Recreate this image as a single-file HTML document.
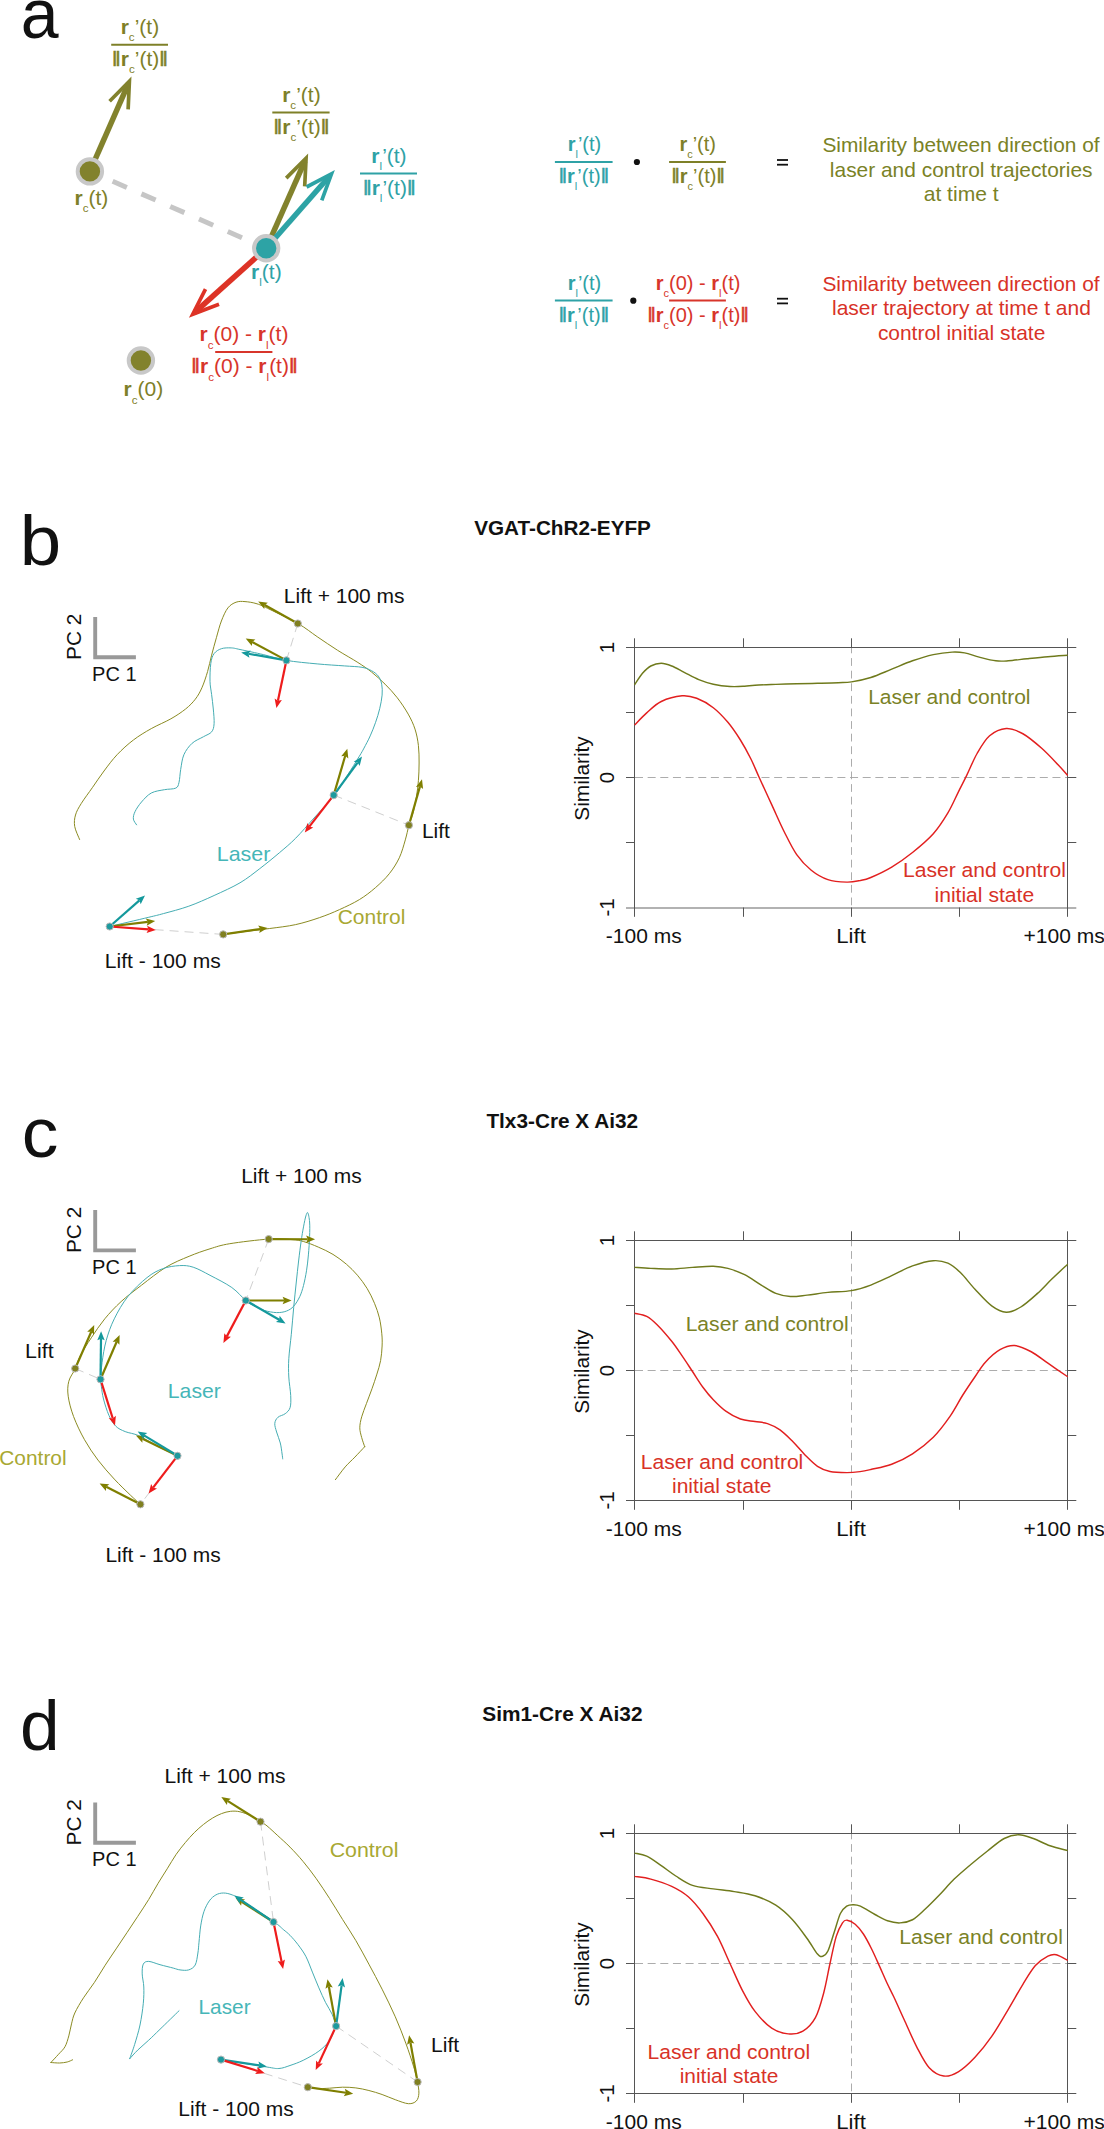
<!DOCTYPE html>
<html><head><meta charset="utf-8"><style>
html,body{margin:0;padding:0;background:#fff;}
svg{display:block;}
text{font-family:"Liberation Sans", sans-serif;}
</style></head><body>
<svg width="1104" height="2129" viewBox="0 0 1104 2129">
<rect width="1104" height="2129" fill="#ffffff"/>
<text x="20.78" y="37.60" font-size="70.00" fill="#111" font-weight="normal" textLength="37.85" lengthAdjust="spacingAndGlyphs" >a</text>
<text x="19.71" y="564.50" font-size="70.00" fill="#111" font-weight="normal" textLength="41.40" lengthAdjust="spacingAndGlyphs" >b</text>
<text x="21.87" y="1157.30" font-size="70.00" fill="#111" font-weight="normal" textLength="36.62" lengthAdjust="spacingAndGlyphs" >c</text>
<text x="20.14" y="1749.80" font-size="70.00" fill="#111" font-weight="normal" textLength="39.67" lengthAdjust="spacingAndGlyphs" >d</text>
<text x="474.20" y="535.10" font-size="20.50" fill="#111" font-weight="bold" textLength="176.73" lengthAdjust="spacingAndGlyphs" >VGAT-ChR2-EYFP</text>
<text x="486.40" y="1127.60" font-size="20.50" fill="#111" font-weight="bold" textLength="151.75" lengthAdjust="spacingAndGlyphs" >Tlx3-Cre X Ai32</text>
<text x="482.29" y="1721.10" font-size="20.50" fill="#111" font-weight="bold" textLength="160.24" lengthAdjust="spacingAndGlyphs" >Sim1-Cre X Ai32</text>
<line x1="634.50" y1="777.50" x2="1067.50" y2="777.50" stroke="#a3a3a3" stroke-width="0.9" stroke-dasharray="8 4.65" stroke-dashoffset="-0.5"/>
<line x1="851.50" y1="647.50" x2="851.50" y2="907.50" stroke="#a3a3a3" stroke-width="0.9" stroke-dasharray="7.8 4.8" stroke-dashoffset="2"/>
<g stroke="#555555" stroke-width="1.0" fill="none">
<line x1="626.0" y1="647.50" x2="1076.3" y2="647.50"/>
<line x1="626.0" y1="908.00" x2="1076.3" y2="908.00" stroke="#b2b2b2" stroke-width="2"/>
<line x1="634.50" y1="638.30" x2="634.50" y2="916.80"/>
<line x1="1067.50" y1="638.30" x2="1067.50" y2="916.80"/>
<line x1="743.50" y1="638.30" x2="743.50" y2="647.50"/>
<line x1="743.50" y1="907.50" x2="743.50" y2="916.80"/>
<line x1="851.50" y1="638.30" x2="851.50" y2="647.50"/>
<line x1="851.50" y1="907.50" x2="851.50" y2="916.80"/>
<line x1="959.50" y1="638.30" x2="959.50" y2="647.50"/>
<line x1="959.50" y1="907.50" x2="959.50" y2="916.80"/>
<line x1="626.0" y1="712.50" x2="634.50" y2="712.50"/>
<line x1="1067.50" y1="712.50" x2="1076.3" y2="712.50"/>
<line x1="626.0" y1="777.50" x2="634.50" y2="777.50"/>
<line x1="1067.50" y1="777.50" x2="1076.3" y2="777.50"/>
<line x1="626.0" y1="842.50" x2="634.50" y2="842.50"/>
<line x1="1067.50" y1="842.50" x2="1076.3" y2="842.50"/>
</g>
<path d="M634.60,684.80 C635.92,682.88 639.80,676.43 642.50,673.30 C645.20,670.17 647.67,667.67 650.80,666.00 C653.92,664.33 657.77,663.30 661.25,663.30 C664.73,663.30 667.88,664.50 671.70,666.00 C675.53,667.50 679.69,670.03 684.20,672.30 C688.71,674.57 693.90,677.62 698.75,679.60 C703.60,681.58 708.09,683.05 713.30,684.20 C718.51,685.35 724.78,686.16 730.00,686.50 C735.22,686.84 740.43,686.47 744.60,686.25 C748.77,686.03 749.80,685.51 755.00,685.20 C760.20,684.89 768.85,684.64 775.80,684.40 C782.75,684.16 789.75,683.93 796.70,683.75 C803.65,683.57 810.57,683.47 817.50,683.30 C824.43,683.12 832.63,682.93 838.30,682.70 C843.97,682.47 846.08,682.77 851.50,681.90 C856.92,681.03 864.10,679.62 870.80,677.50 C877.50,675.38 884.75,671.98 891.70,669.20 C898.65,666.42 905.57,663.23 912.50,660.80 C919.43,658.37 926.70,656.05 933.30,654.60 C939.90,653.15 946.88,652.38 952.10,652.10 C957.32,651.82 960.08,652.07 964.60,652.90 C969.12,653.73 974.00,655.78 979.20,657.10 C984.40,658.42 990.95,660.18 995.80,660.80 C1000.65,661.42 1003.08,661.14 1008.30,660.80 C1013.52,660.46 1020.50,659.43 1027.10,658.75 C1033.70,658.07 1041.13,657.29 1047.90,656.70 C1054.67,656.11 1064.40,655.45 1067.70,655.20" fill="none" stroke="#6f7a1c" stroke-width="1.45" stroke-linejoin="round" stroke-linecap="round" style="stroke-linecap:butt"/>
<path d="M634.60,725.00 C636.62,722.98 642.26,716.82 646.70,712.90 C651.14,708.98 655.35,704.35 661.25,701.50 C667.15,698.65 676.19,696.33 682.10,695.80 C688.01,695.27 691.50,696.32 696.70,698.30 C701.90,700.28 708.10,703.70 713.30,707.70 C718.50,711.70 723.38,716.92 727.90,722.30 C732.42,727.68 736.58,733.92 740.40,740.00 C744.22,746.08 747.67,752.50 750.80,758.75 C753.93,765.00 755.72,769.86 759.20,777.50 C762.68,785.14 767.53,795.57 771.70,804.60 C775.87,813.63 780.03,823.37 784.20,831.70 C788.37,840.03 792.19,848.18 796.70,854.60 C801.21,861.02 806.05,866.03 811.25,870.20 C816.45,874.37 821.99,877.62 827.90,879.60 C833.81,881.58 841.35,881.93 846.70,882.10 C852.05,882.27 855.98,881.37 860.00,880.60 C864.02,879.83 865.52,879.75 870.80,877.50 C876.08,875.25 884.75,871.27 891.70,867.10 C898.65,862.93 905.57,858.06 912.50,852.50 C919.43,846.94 927.40,840.35 933.30,833.75 C939.20,827.15 943.73,819.84 947.90,812.90 C952.07,805.96 955.17,798.35 958.30,792.10 C961.43,785.85 963.57,781.83 966.70,775.40 C969.83,768.97 973.28,760.10 977.10,753.50 C980.92,746.90 984.74,739.97 989.60,735.80 C994.46,731.63 1000.70,728.84 1006.25,728.50 C1011.80,728.16 1016.99,730.45 1022.90,733.75 C1028.81,737.05 1035.80,743.09 1041.70,748.30 C1047.60,753.51 1053.97,760.48 1058.30,765.00 C1062.63,769.52 1066.13,773.67 1067.70,775.40" fill="none" stroke="#e21f1f" stroke-width="1.45" stroke-linejoin="round" stroke-linecap="round" style="stroke-linecap:butt"/>
<text transform="translate(613.6,647.50) rotate(-90)" font-size="20.5" fill="#111" text-anchor="middle">1</text>
<text transform="translate(613.6,777.50) rotate(-90)" font-size="20.5" fill="#111" text-anchor="middle">0</text>
<text transform="translate(613.6,907.50) rotate(-90)" font-size="20.5" fill="#111" text-anchor="middle">-1</text>
<text transform="translate(589.3,778.50) rotate(-90)" font-size="20.8" fill="#111" text-anchor="middle">Similarity</text>
<text x="605.78" y="942.90" font-size="20.50" fill="#111" font-weight="normal" textLength="75.89" lengthAdjust="spacingAndGlyphs" >-100 ms</text>
<text x="836.27" y="942.90" font-size="20.50" fill="#111" font-weight="normal" textLength="29.58" lengthAdjust="spacingAndGlyphs" >Lift</text>
<text x="1023.47" y="942.90" font-size="20.50" fill="#111" font-weight="normal" textLength="81.24" lengthAdjust="spacingAndGlyphs" >+100 ms</text>
<text x="868.16" y="703.50" font-size="20.50" fill="#7a8226" font-weight="normal" textLength="162.38" lengthAdjust="spacingAndGlyphs" >Laser and control</text>
<text x="902.95" y="877.10" font-size="20.50" fill="#d83227" font-weight="normal" textLength="162.99" lengthAdjust="spacingAndGlyphs" >Laser and control</text>
<text x="934.46" y="901.50" font-size="20.50" fill="#d83227" font-weight="normal" textLength="99.72" lengthAdjust="spacingAndGlyphs" >initial state</text>
<line x1="634.50" y1="1370.50" x2="1067.50" y2="1370.50" stroke="#a3a3a3" stroke-width="0.9" stroke-dasharray="8 4.65" stroke-dashoffset="-0.5"/>
<line x1="851.50" y1="1240.50" x2="851.50" y2="1500.50" stroke="#a3a3a3" stroke-width="0.9" stroke-dasharray="7.8 4.8" stroke-dashoffset="2"/>
<g stroke="#555555" stroke-width="1.0" fill="none">
<line x1="626.0" y1="1240.50" x2="1076.3" y2="1240.50"/>
<line x1="626.0" y1="1500.50" x2="1076.3" y2="1500.50"/>
<line x1="634.50" y1="1231.30" x2="634.50" y2="1509.80"/>
<line x1="1067.50" y1="1231.30" x2="1067.50" y2="1509.80"/>
<line x1="743.50" y1="1231.30" x2="743.50" y2="1240.50"/>
<line x1="743.50" y1="1500.50" x2="743.50" y2="1509.80"/>
<line x1="851.50" y1="1231.30" x2="851.50" y2="1240.50"/>
<line x1="851.50" y1="1500.50" x2="851.50" y2="1509.80"/>
<line x1="959.50" y1="1231.30" x2="959.50" y2="1240.50"/>
<line x1="959.50" y1="1500.50" x2="959.50" y2="1509.80"/>
<line x1="626.0" y1="1305.50" x2="634.50" y2="1305.50"/>
<line x1="1067.50" y1="1305.50" x2="1076.3" y2="1305.50"/>
<line x1="626.0" y1="1370.50" x2="634.50" y2="1370.50"/>
<line x1="1067.50" y1="1370.50" x2="1076.3" y2="1370.50"/>
<line x1="626.0" y1="1435.50" x2="634.50" y2="1435.50"/>
<line x1="1067.50" y1="1435.50" x2="1076.3" y2="1435.50"/>
</g>
<path d="M634.60,1267.40 C637.30,1267.57 644.62,1268.13 650.80,1268.40 C656.98,1268.67 664.75,1269.17 671.70,1269.00 C678.65,1268.83 685.57,1267.85 692.50,1267.40 C699.43,1266.95 707.40,1266.13 713.30,1266.30 C719.20,1266.47 722.68,1267.00 727.90,1268.40 C733.12,1269.80 739.04,1271.92 744.60,1274.70 C750.16,1277.48 756.05,1281.98 761.25,1285.10 C766.45,1288.22 770.94,1291.50 775.80,1293.40 C780.66,1295.30 785.18,1296.22 790.40,1296.50 C795.62,1296.78 800.85,1295.78 807.10,1295.10 C813.35,1294.42 820.50,1293.15 827.90,1292.40 C835.30,1291.65 844.35,1291.82 851.50,1290.60 C858.65,1289.38 864.10,1287.58 870.80,1285.10 C877.50,1282.62 884.75,1278.90 891.70,1275.70 C898.65,1272.50 905.57,1268.40 912.50,1265.90 C919.43,1263.40 927.40,1261.15 933.30,1260.70 C939.20,1260.25 943.38,1261.22 947.90,1263.20 C952.42,1265.18 955.88,1268.26 960.40,1272.60 C964.92,1276.94 969.78,1283.70 975.00,1289.25 C980.22,1294.80 986.49,1302.08 991.70,1305.90 C996.91,1309.73 1001.40,1312.02 1006.25,1312.20 C1011.10,1312.38 1015.59,1310.13 1020.80,1307.00 C1026.01,1303.87 1032.28,1298.10 1037.50,1293.40 C1042.72,1288.70 1047.07,1283.66 1052.10,1278.80 C1057.13,1273.94 1065.10,1266.67 1067.70,1264.25" fill="none" stroke="#6f7a1c" stroke-width="1.45" stroke-linejoin="round" stroke-linecap="round" style="stroke-linecap:butt"/>
<path d="M634.60,1313.20 C636.62,1313.72 642.95,1314.38 646.70,1316.30 C650.45,1318.22 652.93,1320.53 657.10,1324.70 C661.27,1328.87 667.53,1336.10 671.70,1341.30 C675.87,1346.50 678.63,1350.87 682.10,1355.90 C685.57,1360.93 689.03,1366.28 692.50,1371.50 C695.97,1376.72 699.43,1382.50 702.90,1387.20 C706.37,1391.90 709.48,1395.72 713.30,1399.70 C717.12,1403.68 721.28,1407.88 725.80,1411.10 C730.32,1414.32 735.53,1417.27 740.40,1419.00 C745.27,1420.73 750.48,1420.73 755.00,1421.50 C759.52,1422.27 763.33,1422.20 767.50,1423.60 C771.67,1425.00 775.83,1426.95 780.00,1429.90 C784.17,1432.85 788.33,1437.13 792.50,1441.30 C796.67,1445.47 800.83,1450.73 805.00,1454.90 C809.17,1459.07 813.33,1463.53 817.50,1466.30 C821.67,1469.07 825.13,1470.45 830.00,1471.50 C834.87,1472.55 841.70,1472.58 846.70,1472.60 C851.70,1472.62 855.98,1472.12 860.00,1471.60 C864.02,1471.08 865.52,1470.72 870.80,1469.50 C876.08,1468.28 884.75,1466.87 891.70,1464.25 C898.65,1461.63 905.57,1458.31 912.50,1453.80 C919.43,1449.29 927.05,1443.45 933.30,1437.20 C939.55,1430.95 945.13,1423.25 950.00,1416.30 C954.87,1409.35 958.33,1402.09 962.50,1395.50 C966.67,1388.91 971.18,1382.30 975.00,1376.75 C978.82,1371.20 981.23,1366.71 985.40,1362.20 C989.57,1357.69 995.13,1352.48 1000.00,1349.70 C1004.87,1346.92 1009.39,1345.16 1014.60,1345.50 C1019.81,1345.84 1025.70,1348.80 1031.25,1351.75 C1036.80,1354.70 1041.83,1359.03 1047.90,1363.20 C1053.98,1367.37 1064.40,1374.49 1067.70,1376.75" fill="none" stroke="#e21f1f" stroke-width="1.45" stroke-linejoin="round" stroke-linecap="round" style="stroke-linecap:butt"/>
<text transform="translate(613.6,1240.50) rotate(-90)" font-size="20.5" fill="#111" text-anchor="middle">1</text>
<text transform="translate(613.6,1370.50) rotate(-90)" font-size="20.5" fill="#111" text-anchor="middle">0</text>
<text transform="translate(613.6,1500.50) rotate(-90)" font-size="20.5" fill="#111" text-anchor="middle">-1</text>
<text transform="translate(589.3,1371.50) rotate(-90)" font-size="20.8" fill="#111" text-anchor="middle">Similarity</text>
<text x="605.78" y="1535.90" font-size="20.50" fill="#111" font-weight="normal" textLength="75.89" lengthAdjust="spacingAndGlyphs" >-100 ms</text>
<text x="836.27" y="1535.90" font-size="20.50" fill="#111" font-weight="normal" textLength="29.58" lengthAdjust="spacingAndGlyphs" >Lift</text>
<text x="1023.47" y="1535.90" font-size="20.50" fill="#111" font-weight="normal" textLength="81.24" lengthAdjust="spacingAndGlyphs" >+100 ms</text>
<text x="685.65" y="1330.90" font-size="20.50" fill="#7a8226" font-weight="normal" textLength="162.99" lengthAdjust="spacingAndGlyphs" >Laser and control</text>
<text x="640.86" y="1468.80" font-size="20.50" fill="#d83227" font-weight="normal" textLength="162.38" lengthAdjust="spacingAndGlyphs" >Laser and control</text>
<text x="671.96" y="1493.40" font-size="20.50" fill="#d83227" font-weight="normal" textLength="99.52" lengthAdjust="spacingAndGlyphs" >initial state</text>
<line x1="634.50" y1="1963.50" x2="1067.50" y2="1963.50" stroke="#a3a3a3" stroke-width="0.9" stroke-dasharray="8 4.65" stroke-dashoffset="-0.5"/>
<line x1="851.50" y1="1833.50" x2="851.50" y2="2093.50" stroke="#a3a3a3" stroke-width="0.9" stroke-dasharray="7.8 4.8" stroke-dashoffset="2"/>
<g stroke="#555555" stroke-width="1.0" fill="none">
<line x1="626.0" y1="1833.50" x2="1076.3" y2="1833.50"/>
<line x1="626.0" y1="2093.50" x2="1076.3" y2="2093.50"/>
<line x1="634.50" y1="1824.30" x2="634.50" y2="2102.80"/>
<line x1="1067.50" y1="1824.30" x2="1067.50" y2="2102.80"/>
<line x1="743.50" y1="1824.30" x2="743.50" y2="1833.50"/>
<line x1="743.50" y1="2093.50" x2="743.50" y2="2102.80"/>
<line x1="851.50" y1="1824.30" x2="851.50" y2="1833.50"/>
<line x1="851.50" y1="2093.50" x2="851.50" y2="2102.80"/>
<line x1="959.50" y1="1824.30" x2="959.50" y2="1833.50"/>
<line x1="959.50" y1="2093.50" x2="959.50" y2="2102.80"/>
<line x1="626.0" y1="1898.50" x2="634.50" y2="1898.50"/>
<line x1="1067.50" y1="1898.50" x2="1076.3" y2="1898.50"/>
<line x1="626.0" y1="1963.50" x2="634.50" y2="1963.50"/>
<line x1="1067.50" y1="1963.50" x2="1076.3" y2="1963.50"/>
<line x1="626.0" y1="2028.50" x2="634.50" y2="2028.50"/>
<line x1="1067.50" y1="2028.50" x2="1076.3" y2="2028.50"/>
</g>
<path d="M634.60,1853.10 C636.62,1853.62 642.26,1854.12 646.70,1856.20 C651.14,1858.28 656.40,1862.30 661.25,1865.60 C666.10,1868.90 670.59,1872.70 675.80,1876.00 C681.01,1879.30 686.25,1883.25 692.50,1885.40 C698.75,1887.55 706.35,1887.87 713.30,1888.90 C720.25,1889.93 727.25,1890.45 734.20,1891.60 C741.15,1892.75 748.07,1893.53 755.00,1895.80 C761.93,1898.07 769.55,1901.21 775.80,1905.20 C782.05,1909.19 787.28,1914.20 792.50,1919.75 C797.72,1925.30 802.93,1932.78 807.10,1938.50 C811.27,1944.22 814.90,1951.15 817.50,1954.10 C820.10,1957.05 820.97,1956.72 822.70,1956.20 C824.43,1955.68 825.98,1954.99 827.90,1951.00 C829.82,1947.01 832.12,1938.50 834.20,1932.25 C836.28,1926.00 838.32,1917.84 840.40,1913.50 C842.48,1909.16 844.62,1907.66 846.70,1906.20 C848.78,1904.74 850.62,1904.75 852.90,1904.75 C855.18,1904.75 856.72,1904.58 860.40,1906.20 C864.08,1907.83 870.48,1912.07 875.00,1914.50 C879.52,1916.93 883.33,1919.40 887.50,1920.80 C891.67,1922.20 895.83,1923.08 900.00,1922.90 C904.17,1922.73 908.33,1922.02 912.50,1919.75 C916.67,1917.48 920.48,1913.47 925.00,1909.30 C929.52,1905.13 934.73,1899.78 939.60,1894.75 C944.47,1889.72 949.00,1884.14 954.20,1879.10 C959.40,1874.06 965.25,1869.18 970.80,1864.50 C976.35,1859.82 981.93,1855.33 987.50,1851.00 C993.07,1846.67 998.99,1841.21 1004.20,1838.50 C1009.41,1835.79 1013.90,1834.75 1018.75,1834.75 C1023.60,1834.75 1028.09,1836.66 1033.30,1838.50 C1038.51,1840.34 1044.27,1843.78 1050.00,1845.80 C1055.73,1847.82 1064.75,1849.80 1067.70,1850.60" fill="none" stroke="#6f7a1c" stroke-width="1.45" stroke-linejoin="round" stroke-linecap="round" style="stroke-linecap:butt"/>
<path d="M634.60,1876.40 C637.30,1876.85 644.62,1877.43 650.80,1879.10 C656.98,1880.77 665.45,1883.45 671.70,1886.40 C677.95,1889.35 683.10,1892.28 688.30,1896.80 C693.50,1901.32 698.03,1906.90 702.90,1913.50 C707.77,1920.10 712.98,1928.07 717.50,1936.40 C722.02,1944.73 725.83,1954.47 730.00,1963.50 C734.17,1972.53 738.33,1982.62 742.50,1990.60 C746.67,1998.58 750.13,2005.15 755.00,2011.40 C759.87,2017.65 766.15,2024.35 771.70,2028.10 C777.25,2031.85 783.10,2033.38 788.30,2033.90 C793.50,2034.42 798.38,2033.90 802.90,2031.20 C807.42,2028.50 811.92,2024.12 815.40,2017.70 C818.88,2011.28 821.32,2001.73 823.75,1992.70 C826.18,1983.67 827.92,1972.88 830.00,1963.50 C832.08,1954.12 834.17,1943.17 836.25,1936.40 C838.33,1929.63 840.69,1925.60 842.50,1922.90 C844.31,1920.20 844.98,1919.98 847.10,1920.20 C849.22,1920.42 852.48,1921.90 855.20,1924.20 C857.92,1926.50 860.68,1929.92 863.40,1934.00 C866.12,1938.08 868.78,1943.27 871.50,1948.70 C874.22,1954.13 877.12,1960.88 879.70,1966.60 C882.28,1972.32 884.66,1977.97 887.00,1983.00 C889.34,1988.03 890.88,1990.67 893.75,1996.80 C896.62,2002.92 900.38,2011.42 904.20,2019.75 C908.03,2028.08 912.53,2038.81 916.70,2046.80 C920.87,2054.79 924.69,2062.83 929.20,2067.70 C933.71,2072.57 938.90,2075.32 943.75,2076.00 C948.60,2076.68 953.09,2074.93 958.30,2071.80 C963.51,2068.68 969.43,2063.15 975.00,2057.25 C980.57,2051.35 986.15,2044.39 991.70,2036.40 C997.25,2028.41 1003.10,2017.98 1008.30,2009.30 C1013.50,2000.62 1018.38,1991.58 1022.90,1984.30 C1027.42,1977.02 1031.23,1970.28 1035.40,1965.60 C1039.57,1960.92 1044.43,1958.01 1047.90,1956.20 C1051.38,1954.39 1052.95,1954.05 1056.25,1954.75 C1059.55,1955.45 1065.79,1959.46 1067.70,1960.40" fill="none" stroke="#e21f1f" stroke-width="1.45" stroke-linejoin="round" stroke-linecap="round" style="stroke-linecap:butt"/>
<text transform="translate(613.6,1833.50) rotate(-90)" font-size="20.5" fill="#111" text-anchor="middle">1</text>
<text transform="translate(613.6,1963.50) rotate(-90)" font-size="20.5" fill="#111" text-anchor="middle">0</text>
<text transform="translate(613.6,2093.50) rotate(-90)" font-size="20.5" fill="#111" text-anchor="middle">-1</text>
<text transform="translate(589.3,1964.50) rotate(-90)" font-size="20.8" fill="#111" text-anchor="middle">Similarity</text>
<text x="605.78" y="2128.90" font-size="20.50" fill="#111" font-weight="normal" textLength="75.89" lengthAdjust="spacingAndGlyphs" >-100 ms</text>
<text x="836.27" y="2128.90" font-size="20.50" fill="#111" font-weight="normal" textLength="29.58" lengthAdjust="spacingAndGlyphs" >Lift</text>
<text x="1023.47" y="2128.90" font-size="20.50" fill="#111" font-weight="normal" textLength="81.24" lengthAdjust="spacingAndGlyphs" >+100 ms</text>
<text x="899.35" y="1943.70" font-size="20.50" fill="#7a8226" font-weight="normal" textLength="163.50" lengthAdjust="spacingAndGlyphs" >Laser and control</text>
<text x="647.56" y="2058.90" font-size="20.50" fill="#d83227" font-weight="normal" textLength="162.53" lengthAdjust="spacingAndGlyphs" >Laser and control</text>
<text x="679.68" y="2083.30" font-size="20.50" fill="#d83227" font-weight="normal" textLength="98.70" lengthAdjust="spacingAndGlyphs" >initial state</text>
<path d="M95.2,616.90 L95.2,657.30 L135.9,657.30" fill="none" stroke="#999999" stroke-width="3.9" stroke-linejoin="miter"/>
<text x="114.30" y="680.70" font-size="20.00" fill="#111" text-anchor="middle" font-weight="normal" >PC 1</text>
<text transform="translate(81.2,636.80) rotate(-90)" font-size="20.8" fill="#111" text-anchor="middle">PC 2</text>
<path d="M223.20,934.40 C226.83,933.92 237.25,932.48 245.00,931.50 C252.75,930.52 261.25,929.65 269.70,928.50 C278.15,927.35 287.38,926.42 295.70,924.60 C304.02,922.78 312.30,920.10 319.60,917.60 C326.90,915.10 332.87,912.60 339.50,909.60 C346.13,906.60 353.42,903.25 359.40,899.60 C365.38,895.95 370.42,892.02 375.40,887.70 C380.38,883.38 385.32,878.68 389.30,873.70 C393.28,868.72 396.63,863.43 399.30,857.80 C401.97,852.17 403.70,845.28 405.30,839.90 C406.90,834.52 407.62,829.93 408.90,825.50 C410.18,821.07 411.75,818.05 413.00,813.30 C414.25,808.55 415.50,802.43 416.40,797.00 C417.30,791.57 417.95,786.37 418.40,780.70 C418.85,775.03 419.10,768.88 419.10,763.00 C419.10,757.12 419.08,751.05 418.40,745.40 C417.72,739.75 416.70,734.32 415.00,729.10 C413.30,723.88 411.15,719.32 408.20,714.10 C405.25,708.88 401.15,702.78 397.30,697.80 C393.45,692.82 389.40,688.50 385.10,684.20 C380.80,679.90 376.03,675.62 371.50,672.00 C366.97,668.38 363.55,666.12 357.90,662.50 C352.25,658.88 344.38,654.60 337.60,650.30 C330.82,646.00 323.73,641.12 317.20,636.70 C310.67,632.28 306.27,628.33 298.40,623.80 C290.53,619.27 276.90,612.83 270.00,609.50 C263.10,606.17 261.17,605.12 257.00,603.80 C252.83,602.48 248.48,601.87 245.00,601.60 C241.52,601.33 238.95,601.15 236.10,602.20 C233.25,603.25 230.35,604.77 227.90,607.90 C225.45,611.03 223.30,616.10 221.40,621.00 C219.50,625.90 218.13,631.60 216.50,637.30 C214.87,643.00 213.08,649.50 211.60,655.20 C210.12,660.90 209.22,666.07 207.60,671.50 C205.98,676.93 203.95,683.18 201.90,687.80 C199.85,692.42 198.02,695.67 195.30,699.20 C192.58,702.73 189.67,705.73 185.60,709.00 C181.53,712.27 176.62,715.53 170.90,718.80 C165.18,722.07 157.55,725.07 151.30,728.60 C145.05,732.13 139.10,735.65 133.40,740.00 C127.70,744.35 122.00,749.53 117.10,754.70 C112.20,759.87 108.08,765.57 104.00,771.00 C99.92,776.43 96.40,781.87 92.60,787.30 C88.80,792.73 84.05,798.98 81.20,803.60 C78.35,808.22 76.58,811.20 75.50,815.00 C74.42,818.80 74.02,822.32 74.70,826.40 C75.38,830.48 78.78,837.32 79.60,839.50" fill="none" stroke="#8b8b22" stroke-width="1.00" stroke-linejoin="round" stroke-linecap="round" />
<path d="M109.70,926.50 C116.12,924.98 139.25,919.55 148.20,917.40 C157.15,915.25 156.63,915.47 163.40,913.60 C170.17,911.73 180.35,909.22 188.80,906.20 C197.25,903.18 205.57,899.40 214.10,895.50 C222.63,891.60 232.38,887.28 240.00,882.80 C247.62,878.32 253.18,873.65 259.80,868.60 C266.42,863.55 273.72,857.57 279.70,852.50 C285.68,847.43 289.98,843.95 295.70,838.20 C301.42,832.45 307.58,825.08 314.00,818.00 C320.42,810.92 328.70,802.70 334.20,795.70 C339.70,788.70 342.82,782.57 347.00,776.00 C351.18,769.43 356.47,760.95 359.30,756.30 C362.13,751.65 362.18,751.50 364.00,748.10 C365.82,744.70 368.27,740.20 370.20,735.90 C372.13,731.60 374.02,726.83 375.60,722.30 C377.18,717.77 378.62,713.23 379.70,708.70 C380.78,704.17 381.77,699.18 382.10,695.10 C382.43,691.02 382.33,687.37 381.70,684.20 C381.07,681.03 380.00,678.35 378.30,676.10 C376.60,673.85 374.22,672.17 371.50,670.70 C368.78,669.23 366.53,668.10 362.00,667.30 C357.47,666.50 351.77,666.47 344.30,665.90 C336.83,665.33 326.85,664.82 317.20,663.90 C307.55,662.98 295.30,661.93 286.40,660.40 C277.50,658.87 271.53,656.52 263.80,654.70 C256.07,652.88 245.43,650.63 240.00,649.50 C234.57,648.37 234.30,648.03 231.20,647.90 C228.10,647.77 224.25,647.75 221.40,648.70 C218.55,649.65 215.87,651.15 214.10,653.60 C212.33,656.05 211.48,658.78 210.80,663.40 C210.12,668.02 209.87,676.13 210.00,681.30 C210.13,686.47 211.05,689.78 211.60,694.40 C212.15,699.02 212.88,704.12 213.30,709.00 C213.72,713.88 214.38,719.88 214.10,723.70 C213.82,727.52 213.37,729.73 211.60,731.90 C209.83,734.07 206.75,734.80 203.50,736.70 C200.25,738.60 195.37,740.30 192.10,743.30 C188.83,746.30 185.80,750.35 183.90,754.70 C182.00,759.05 181.52,764.78 180.70,769.40 C179.88,774.02 179.82,779.28 179.00,782.40 C178.18,785.52 178.23,786.88 175.80,788.10 C173.37,789.32 168.48,788.88 164.40,789.70 C160.32,790.52 155.12,790.95 151.30,793.00 C147.48,795.05 144.22,798.88 141.50,802.00 C138.78,805.12 136.35,808.85 135.00,811.70 C133.65,814.55 133.13,816.92 133.40,819.10 C133.67,821.28 136.07,823.85 136.60,824.80" fill="none" stroke="#45adb3" stroke-width="1.00" stroke-linejoin="round" stroke-linecap="round" />
<line x1="297.80" y1="623.50" x2="286.40" y2="660.40" stroke="#cacaca" stroke-width="0.90" stroke-dasharray="9 6"/>
<line x1="333.70" y1="795.10" x2="408.90" y2="825.20" stroke="#cacaca" stroke-width="0.90" stroke-dasharray="9 6"/>
<line x1="109.70" y1="926.50" x2="223.20" y2="934.40" stroke="#cacaca" stroke-width="0.90" stroke-dasharray="9 6"/>
<line x1="297.80" y1="623.50" x2="264.65" y2="605.08" stroke="#7f7f00" stroke-width="2.20"/>
<path d="M258.20,601.50 L267.86,602.64 L264.65,605.08 L264.27,609.11 Z" fill="#7f7f00"/>
<line x1="286.40" y1="660.40" x2="252.19" y2="641.91" stroke="#7f7f00" stroke-width="2.20"/>
<path d="M245.70,638.40 L255.38,639.42 L252.19,641.91 L251.86,645.93 Z" fill="#7f7f00"/>
<line x1="286.40" y1="660.40" x2="248.47" y2="653.77" stroke="#14999c" stroke-width="2.20"/>
<path d="M241.20,652.50 L250.70,650.40 L248.47,653.77 L249.43,657.69 Z" fill="#14999c"/>
<line x1="286.40" y1="660.40" x2="277.92" y2="700.78" stroke="#ee1c1c" stroke-width="2.20"/>
<path d="M276.40,708.00 L274.63,698.43 L277.92,700.78 L281.87,699.95 Z" fill="#ee1c1c"/>
<line x1="333.70" y1="795.10" x2="345.22" y2="755.78" stroke="#7f7f00" stroke-width="2.20"/>
<path d="M347.30,748.70 L348.32,758.38 L345.22,755.78 L341.22,756.30 Z" fill="#7f7f00"/>
<line x1="333.70" y1="795.10" x2="357.63" y2="762.55" stroke="#14999c" stroke-width="2.20"/>
<path d="M362.00,756.60 L359.65,766.04 L357.63,762.55 L353.69,761.66 Z" fill="#14999c"/>
<line x1="333.70" y1="795.10" x2="309.32" y2="826.57" stroke="#ee1c1c" stroke-width="2.20"/>
<path d="M304.80,832.40 L307.39,823.02 L309.32,826.57 L313.24,827.55 Z" fill="#ee1c1c"/>
<line x1="408.90" y1="825.20" x2="419.97" y2="786.40" stroke="#7f7f00" stroke-width="2.20"/>
<path d="M422.00,779.30 L423.09,788.97 L419.97,786.40 L415.97,786.94 Z" fill="#7f7f00"/>
<line x1="109.70" y1="926.50" x2="147.87" y2="921.89" stroke="#7f7f00" stroke-width="2.20"/>
<path d="M155.20,921.00 L146.71,925.75 L147.87,921.89 L145.82,918.41 Z" fill="#7f7f00"/>
<line x1="109.70" y1="926.50" x2="148.44" y2="929.44" stroke="#ee1c1c" stroke-width="2.20"/>
<path d="M155.80,930.00 L146.55,933.01 L148.44,929.44 L147.11,925.63 Z" fill="#ee1c1c"/>
<line x1="109.70" y1="926.50" x2="139.45" y2="900.37" stroke="#14999c" stroke-width="2.20"/>
<path d="M145.00,895.50 L140.68,904.22 L139.45,900.37 L135.80,898.66 Z" fill="#14999c"/>
<line x1="223.20" y1="934.40" x2="260.30" y2="929.05" stroke="#7f7f00" stroke-width="2.20"/>
<path d="M267.60,928.00 L259.22,932.95 L260.30,929.05 L258.16,925.62 Z" fill="#7f7f00"/>
<circle cx="297.80" cy="623.50" r="3.60" fill="#808020" stroke="#b9b9b9" stroke-width="1.00"/>
<circle cx="286.40" cy="660.40" r="3.60" fill="#1d9a9e" stroke="#b9b9b9" stroke-width="1.00"/>
<circle cx="333.70" cy="795.10" r="3.60" fill="#1d9a9e" stroke="#b9b9b9" stroke-width="1.00"/>
<circle cx="408.90" cy="825.20" r="3.60" fill="#808020" stroke="#b9b9b9" stroke-width="1.00"/>
<circle cx="109.70" cy="926.50" r="3.60" fill="#1d9a9e" stroke="#b9b9b9" stroke-width="1.00"/>
<circle cx="223.20" cy="934.40" r="3.60" fill="#808020" stroke="#b9b9b9" stroke-width="1.00"/>
<text x="283.85" y="602.60" font-size="20.30" fill="#111" font-weight="normal" textLength="120.77" lengthAdjust="spacingAndGlyphs" >Lift + 100 ms</text>
<text x="421.95" y="838.20" font-size="20.30" fill="#111" font-weight="normal" textLength="27.94" lengthAdjust="spacingAndGlyphs" >Lift</text>
<text x="216.71" y="860.80" font-size="20.30" fill="#46b6b8" font-weight="normal" textLength="53.69" lengthAdjust="spacingAndGlyphs" >Laser</text>
<text x="337.67" y="923.80" font-size="20.30" fill="#a8a832" font-weight="normal" textLength="67.72" lengthAdjust="spacingAndGlyphs" >Control</text>
<text x="104.84" y="968.30" font-size="20.30" fill="#111" font-weight="normal" textLength="115.88" lengthAdjust="spacingAndGlyphs" >Lift - 100 ms</text>
<path d="M95.2,1210.00 L95.2,1250.40 L135.9,1250.40" fill="none" stroke="#999999" stroke-width="3.9" stroke-linejoin="miter"/>
<text x="114.30" y="1273.80" font-size="20.00" fill="#111" text-anchor="middle" font-weight="normal" >PC 1</text>
<text transform="translate(81.2,1229.90) rotate(-90)" font-size="20.8" fill="#111" text-anchor="middle">PC 2</text>
<path d="M140.40,1504.30 C138.78,1502.82 135.05,1499.60 130.70,1495.40 C126.35,1491.20 119.75,1484.98 114.30,1479.10 C108.85,1473.22 102.97,1466.67 98.00,1460.10 C93.03,1453.53 88.57,1446.95 84.50,1439.70 C80.43,1432.45 76.32,1423.85 73.60,1416.60 C70.88,1409.35 69.00,1402.08 68.20,1396.20 C67.40,1390.32 67.63,1385.87 68.80,1381.30 C69.97,1376.73 73.27,1373.10 75.20,1368.80 C77.13,1364.50 77.72,1360.67 80.40,1355.50 C83.08,1350.33 87.23,1343.92 91.30,1337.80 C95.37,1331.68 99.83,1324.83 104.80,1318.80 C109.77,1312.77 114.98,1307.20 121.10,1301.60 C127.22,1296.00 134.02,1290.93 141.50,1285.20 C148.98,1279.47 158.07,1272.02 166.00,1267.20 C173.93,1262.38 181.77,1259.37 189.10,1256.30 C196.43,1253.23 203.22,1250.90 210.00,1248.80 C216.78,1246.70 220.02,1245.32 229.80,1243.70 C239.58,1242.08 258.40,1239.78 268.70,1239.10 C279.00,1238.42 285.77,1239.18 291.60,1239.60 C297.43,1240.02 299.25,1240.35 303.70,1241.60 C308.15,1242.85 313.42,1244.97 318.30,1247.10 C323.18,1249.23 328.32,1251.55 333.00,1254.40 C337.68,1257.25 342.33,1260.73 346.40,1264.20 C350.47,1267.67 353.93,1271.13 357.40,1275.20 C360.87,1279.27 364.35,1283.92 367.20,1288.60 C370.05,1293.28 372.47,1298.42 374.50,1303.30 C376.53,1308.18 378.18,1312.82 379.40,1317.90 C380.62,1322.98 381.35,1329.12 381.80,1333.80 C382.25,1338.48 382.30,1341.53 382.10,1346.00 C381.90,1350.47 381.47,1355.92 380.60,1360.60 C379.73,1365.28 378.33,1369.42 376.90,1374.10 C375.47,1378.78 373.73,1383.82 372.00,1388.70 C370.27,1393.58 368.22,1398.72 366.50,1403.40 C364.78,1408.08 362.82,1412.73 361.70,1416.80 C360.58,1420.87 359.80,1424.33 359.80,1427.80 C359.80,1431.27 360.88,1434.45 361.70,1437.60 C362.52,1440.75 364.20,1445.18 364.70,1446.70" fill="none" stroke="#8b8b22" stroke-width="1.00" stroke-linejoin="round" stroke-linecap="round" />
<path d="M364.70,1446.70 C363.07,1448.43 358.15,1453.73 354.90,1457.10 C351.65,1460.47 348.45,1463.13 345.20,1466.90 C341.95,1470.67 337.03,1477.57 335.40,1479.70" fill="none" stroke="#8b8b22" stroke-width="1.00" stroke-linejoin="round" stroke-linecap="round" />
<path d="M177.50,1455.80 C174.25,1454.25 164.45,1449.85 158.00,1446.50 C151.55,1443.15 144.27,1438.18 138.80,1435.70 C133.33,1433.22 129.05,1433.20 125.20,1431.60 C121.35,1430.00 118.42,1428.82 115.70,1426.10 C112.98,1423.38 110.93,1419.82 108.90,1415.30 C106.87,1410.78 104.75,1403.77 103.50,1399.00 C102.25,1394.23 101.85,1389.98 101.40,1386.70 C100.95,1383.42 100.68,1383.37 100.80,1379.30 C100.92,1375.23 101.20,1368.77 102.10,1362.30 C103.00,1355.83 104.17,1347.75 106.20,1340.50 C108.23,1333.25 110.68,1326.13 114.30,1318.80 C117.92,1311.47 122.45,1303.37 127.90,1296.50 C133.35,1289.63 141.20,1282.23 147.00,1277.60 C152.80,1272.97 157.27,1270.70 162.70,1268.70 C168.13,1266.70 174.52,1265.85 179.60,1265.60 C184.68,1265.35 188.13,1265.58 193.20,1267.20 C198.27,1268.82 203.57,1271.92 210.00,1275.30 C216.43,1278.68 225.83,1283.30 231.80,1287.50 C237.77,1291.70 241.98,1297.38 245.80,1300.50 C249.62,1303.62 251.60,1304.53 254.70,1306.20 C257.80,1307.87 260.75,1309.43 264.40,1310.50 C268.05,1311.57 272.93,1312.50 276.60,1312.60 C280.27,1312.70 283.55,1312.17 286.40,1311.10 C289.25,1310.03 291.47,1308.63 293.70,1306.20 C295.93,1303.77 298.17,1299.95 299.80,1296.50 C301.43,1293.05 302.38,1289.78 303.50,1285.50 C304.62,1281.22 305.68,1275.90 306.50,1270.80 C307.32,1265.70 307.88,1260.60 308.40,1254.90 C308.92,1249.20 309.40,1242.08 309.60,1236.60 C309.80,1231.12 309.90,1225.97 309.60,1222.00 C309.30,1218.03 308.42,1213.82 307.80,1212.80 C307.18,1211.78 306.62,1213.55 305.90,1215.90 C305.18,1218.25 304.30,1222.63 303.50,1226.90 C302.70,1231.17 301.92,1235.82 301.10,1241.50 C300.28,1247.18 299.42,1254.08 298.60,1261.00 C297.78,1267.92 297.02,1275.27 296.20,1283.00 C295.38,1290.73 294.52,1298.85 293.70,1307.40 C292.88,1315.95 292.12,1325.75 291.30,1334.30 C290.48,1342.85 289.22,1351.58 288.80,1358.70 C288.38,1365.82 288.48,1370.88 288.80,1377.00 C289.12,1383.12 290.48,1390.30 290.70,1395.40 C290.92,1400.50 291.02,1404.55 290.10,1407.60 C289.18,1410.65 287.23,1412.08 285.20,1413.70 C283.17,1415.32 279.63,1415.68 277.90,1417.30 C276.17,1418.92 275.02,1420.95 274.80,1423.40 C274.58,1425.85 275.68,1428.73 276.60,1432.00 C277.52,1435.27 279.38,1439.33 280.30,1443.00 C281.22,1446.67 281.70,1451.35 282.10,1454.00 C282.50,1456.65 282.60,1458.08 282.70,1458.90" fill="none" stroke="#45adb3" stroke-width="1.00" stroke-linejoin="round" stroke-linecap="round" />
<line x1="268.70" y1="1239.10" x2="245.80" y2="1300.50" stroke="#cacaca" stroke-width="0.90" stroke-dasharray="9 6"/>
<line x1="75.20" y1="1368.50" x2="100.50" y2="1379.30" stroke="#cacaca" stroke-width="0.90" stroke-dasharray="9 6"/>
<line x1="177.50" y1="1455.80" x2="140.40" y2="1504.30" stroke="#cacaca" stroke-width="0.90" stroke-dasharray="9 6"/>
<line x1="268.70" y1="1239.10" x2="307.72" y2="1239.27" stroke="#7f7f00" stroke-width="2.20"/>
<path d="M315.10,1239.30 L306.08,1242.96 L307.72,1239.27 L306.12,1235.56 Z" fill="#7f7f00"/>
<line x1="245.80" y1="1300.50" x2="284.22" y2="1300.50" stroke="#7f7f00" stroke-width="2.20"/>
<path d="M291.60,1300.50 L282.60,1304.20 L284.22,1300.50 L282.60,1296.80 Z" fill="#7f7f00"/>
<line x1="245.80" y1="1300.50" x2="279.20" y2="1319.72" stroke="#14999c" stroke-width="2.20"/>
<path d="M285.60,1323.40 L275.95,1322.12 L279.20,1319.72 L279.64,1315.70 Z" fill="#14999c"/>
<line x1="245.80" y1="1300.50" x2="226.85" y2="1336.37" stroke="#ee1c1c" stroke-width="2.20"/>
<path d="M223.40,1342.90 L224.33,1333.21 L226.85,1336.37 L230.88,1336.67 Z" fill="#ee1c1c"/>
<line x1="75.20" y1="1368.50" x2="91.25" y2="1331.76" stroke="#7f7f00" stroke-width="2.20"/>
<path d="M94.20,1325.00 L93.99,1334.73 L91.25,1331.76 L87.21,1331.77 Z" fill="#7f7f00"/>
<line x1="100.50" y1="1379.30" x2="116.68" y2="1341.78" stroke="#7f7f00" stroke-width="2.20"/>
<path d="M119.60,1335.00 L119.43,1344.73 L116.68,1341.78 L112.64,1341.80 Z" fill="#7f7f00"/>
<line x1="100.50" y1="1379.30" x2="101.01" y2="1338.68" stroke="#14999c" stroke-width="2.20"/>
<path d="M101.10,1331.30 L104.69,1340.35 L101.01,1338.68 L97.29,1340.25 Z" fill="#14999c"/>
<line x1="100.50" y1="1379.30" x2="112.79" y2="1418.46" stroke="#ee1c1c" stroke-width="2.20"/>
<path d="M115.00,1425.50 L108.77,1418.02 L112.79,1418.46 L115.84,1415.81 Z" fill="#ee1c1c"/>
<line x1="177.50" y1="1455.80" x2="142.53" y2="1438.74" stroke="#7f7f00" stroke-width="2.20"/>
<path d="M135.90,1435.50 L145.61,1436.12 L142.53,1438.74 L142.37,1442.77 Z" fill="#7f7f00"/>
<line x1="177.50" y1="1455.80" x2="144.00" y2="1435.35" stroke="#14999c" stroke-width="2.20"/>
<path d="M137.70,1431.50 L147.31,1433.03 L144.00,1435.35 L143.45,1439.35 Z" fill="#14999c"/>
<line x1="177.50" y1="1455.80" x2="153.09" y2="1487.64" stroke="#ee1c1c" stroke-width="2.20"/>
<path d="M148.60,1493.50 L151.14,1484.11 L153.09,1487.64 L157.01,1488.61 Z" fill="#ee1c1c"/>
<line x1="140.40" y1="1504.30" x2="106.17" y2="1486.85" stroke="#7f7f00" stroke-width="2.20"/>
<path d="M99.60,1483.50 L109.30,1484.29 L106.17,1486.85 L105.94,1490.88 Z" fill="#7f7f00"/>
<circle cx="268.70" cy="1239.10" r="3.60" fill="#808020" stroke="#b9b9b9" stroke-width="1.00"/>
<circle cx="245.80" cy="1300.50" r="3.60" fill="#1d9a9e" stroke="#b9b9b9" stroke-width="1.00"/>
<circle cx="75.20" cy="1368.50" r="3.60" fill="#808020" stroke="#b9b9b9" stroke-width="1.00"/>
<circle cx="100.50" cy="1379.30" r="3.60" fill="#1d9a9e" stroke="#b9b9b9" stroke-width="1.00"/>
<circle cx="177.50" cy="1455.80" r="3.60" fill="#1d9a9e" stroke="#b9b9b9" stroke-width="1.00"/>
<circle cx="140.40" cy="1504.30" r="3.60" fill="#808020" stroke="#b9b9b9" stroke-width="1.00"/>
<text x="241.15" y="1182.90" font-size="20.30" fill="#111" font-weight="normal" textLength="120.56" lengthAdjust="spacingAndGlyphs" >Lift + 100 ms</text>
<text x="25.12" y="1358.20" font-size="20.30" fill="#111" font-weight="normal" textLength="28.47" lengthAdjust="spacingAndGlyphs" >Lift</text>
<text x="167.83" y="1397.60" font-size="20.30" fill="#46b6b8" font-weight="normal" textLength="52.96" lengthAdjust="spacingAndGlyphs" >Laser</text>
<text x="-0.73" y="1464.90" font-size="20.30" fill="#a8a832" font-weight="normal" textLength="67.31" lengthAdjust="spacingAndGlyphs" >Control</text>
<text x="105.45" y="1561.60" font-size="20.30" fill="#111" font-weight="normal" textLength="115.37" lengthAdjust="spacingAndGlyphs" >Lift - 100 ms</text>
<path d="M95.2,1802.40 L95.2,1842.80 L135.9,1842.80" fill="none" stroke="#999999" stroke-width="3.9" stroke-linejoin="miter"/>
<text x="114.30" y="1866.20" font-size="20.00" fill="#111" text-anchor="middle" font-weight="normal" >PC 1</text>
<text transform="translate(81.2,1822.30) rotate(-90)" font-size="20.8" fill="#111" text-anchor="middle">PC 2</text>
<path d="M307.80,2087.20 C309.22,2087.43 312.68,2088.43 316.30,2088.60 C319.92,2088.77 325.12,2088.43 329.50,2088.20 C333.88,2087.97 338.22,2087.25 342.60,2087.20 C346.98,2087.15 351.42,2087.35 355.80,2087.90 C360.18,2088.45 364.52,2089.40 368.90,2090.50 C373.28,2091.60 377.70,2092.97 382.10,2094.50 C386.50,2096.03 390.92,2098.17 395.30,2099.70 C399.68,2101.23 404.90,2103.48 408.40,2103.70 C411.90,2103.92 414.55,2102.75 416.30,2101.00 C418.05,2099.25 418.68,2096.37 418.90,2093.20 C419.12,2090.03 417.82,2083.87 417.60,2082.00" fill="none" stroke="#8b8b22" stroke-width="1.00" stroke-linejoin="round" stroke-linecap="round" />
<path d="M417.60,2082.00 C416.95,2079.47 415.67,2073.27 413.70,2066.80 C411.73,2060.33 408.87,2051.53 405.80,2043.20 C402.73,2034.87 399.25,2025.80 395.30,2016.80 C391.35,2007.80 386.50,1997.97 382.10,1989.20 C377.70,1980.43 373.28,1972.32 368.90,1964.20 C364.52,1956.08 360.18,1947.95 355.80,1940.50 C351.42,1933.05 346.98,1926.52 342.60,1919.50 C338.22,1912.48 333.88,1905.20 329.50,1898.40 C325.12,1891.60 320.68,1884.83 316.30,1878.70 C311.92,1872.57 307.58,1866.87 303.20,1861.60 C298.82,1856.33 294.23,1851.42 290.00,1847.10 C285.77,1842.78 281.63,1839.23 277.80,1835.70 C273.97,1832.17 269.90,1828.27 267.00,1825.90 C264.10,1823.53 262.95,1823.13 260.40,1821.50 C257.85,1819.87 255.10,1817.72 251.70,1816.10 C248.30,1814.48 243.52,1812.60 240.00,1811.80 C236.48,1811.00 233.68,1811.00 230.60,1811.30 C227.52,1811.60 224.52,1812.47 221.50,1813.60 C218.48,1814.73 215.52,1816.28 212.50,1818.10 C209.48,1819.92 206.43,1822.08 203.40,1824.50 C200.37,1826.92 197.32,1829.58 194.30,1832.60 C191.28,1835.62 188.32,1838.98 185.30,1842.60 C182.28,1846.22 179.22,1849.93 176.20,1854.30 C173.18,1858.67 170.22,1863.97 167.20,1868.80 C164.18,1873.63 161.18,1878.18 158.10,1883.30 C155.02,1888.42 152.08,1894.00 148.70,1899.50 C145.32,1905.00 141.42,1910.78 137.80,1916.30 C134.18,1921.82 130.62,1927.17 127.00,1932.60 C123.38,1938.03 119.73,1943.47 116.10,1948.90 C112.47,1954.33 108.83,1959.58 105.20,1965.20 C101.57,1970.82 97.92,1977.17 94.30,1982.60 C90.68,1988.03 86.75,1992.73 83.50,1997.80 C80.25,2002.87 76.80,2008.65 74.80,2013.00 C72.80,2017.35 72.50,2020.08 71.50,2023.90 C70.50,2027.72 69.88,2032.10 68.80,2035.90 C67.72,2039.70 66.72,2043.63 65.00,2046.70 C63.28,2049.77 60.85,2051.67 58.50,2054.30 C56.15,2056.93 52.17,2061.13 50.90,2062.50" fill="none" stroke="#8b8b22" stroke-width="1.00" stroke-linejoin="round" stroke-linecap="round" />
<path d="M50.90,2062.50 C52.35,2062.58 56.88,2063.08 59.60,2063.00 C62.32,2062.92 65.03,2062.53 67.20,2062.00 C69.37,2061.47 71.70,2060.17 72.60,2059.80" fill="none" stroke="#8b8b22" stroke-width="1.00" stroke-linejoin="round" stroke-linecap="round" />
<path d="M220.90,2059.60 C228.43,2060.82 256.43,2065.42 266.10,2066.90 C275.77,2068.38 274.92,2068.73 278.90,2068.50 C282.88,2068.27 285.95,2066.87 290.00,2065.50 C294.05,2064.13 298.38,2062.70 303.20,2060.30 C308.02,2057.90 314.52,2054.40 318.90,2051.10 C323.28,2047.80 326.63,2044.67 329.50,2040.50 C332.37,2036.33 335.00,2028.50 336.10,2026.10" fill="none" stroke="#45adb3" stroke-width="1.00" stroke-linejoin="round" stroke-linecap="round" />
<path d="M336.10,2026.10 C335.43,2024.12 333.87,2018.15 332.10,2014.20 C330.33,2010.25 327.70,2006.78 325.50,2002.40 C323.30,1998.02 321.08,1992.95 318.90,1987.90 C316.72,1982.85 314.58,1977.37 312.40,1972.10 C310.22,1966.83 308.22,1960.90 305.80,1956.30 C303.38,1951.70 300.53,1948.00 297.90,1944.50 C295.27,1941.00 292.43,1937.80 290.00,1935.30 C287.57,1932.80 286.05,1931.80 283.30,1929.50 C280.55,1927.20 280.57,1926.45 273.50,1921.50 C266.43,1916.55 247.78,1904.23 240.90,1899.80 C234.02,1895.37 235.10,1896.03 232.20,1894.90 C229.30,1893.77 226.22,1893.00 223.50,1893.00 C220.78,1893.00 218.27,1893.58 215.90,1894.90 C213.53,1896.22 211.30,1898.10 209.30,1900.90 C207.30,1903.70 205.33,1907.53 203.90,1911.70 C202.47,1915.87 201.52,1920.82 200.70,1925.90 C199.88,1930.98 199.47,1937.68 199.00,1942.20 C198.53,1946.72 198.53,1949.20 197.90,1953.00 C197.27,1956.80 196.73,1962.18 195.20,1965.00 C193.67,1967.82 191.23,1969.08 188.70,1969.90 C186.17,1970.72 182.57,1970.20 180.00,1969.90 C177.43,1969.60 176.63,1968.97 173.30,1968.10 C169.97,1967.23 164.10,1965.82 160.00,1964.70 C155.90,1963.58 151.48,1961.50 148.70,1961.40 C145.92,1961.30 144.38,1962.02 143.30,1964.10 C142.22,1966.18 142.12,1970.08 142.20,1973.90 C142.28,1977.72 143.62,1982.10 143.80,1987.00 C143.98,1991.90 143.93,1996.97 143.30,2003.30 C142.67,2009.63 141.45,2018.12 140.00,2025.00 C138.55,2031.88 136.32,2038.98 134.60,2044.60 C132.88,2050.22 130.52,2056.35 129.70,2058.70" fill="none" stroke="#45adb3" stroke-width="1.00" stroke-linejoin="round" stroke-linecap="round" />
<path d="M129.70,2058.70 C131.05,2057.25 134.63,2053.08 137.80,2050.00 C140.97,2046.92 145.00,2043.65 148.70,2040.20 C152.40,2036.75 154.95,2034.20 160.00,2029.30 C165.05,2024.40 175.83,2013.88 179.00,2010.80" fill="none" stroke="#45adb3" stroke-width="1.00" stroke-linejoin="round" stroke-linecap="round" />
<line x1="260.50" y1="1821.70" x2="273.50" y2="1922.00" stroke="#cacaca" stroke-width="0.90" stroke-dasharray="9 6"/>
<line x1="336.10" y1="2026.10" x2="417.60" y2="2082.00" stroke="#cacaca" stroke-width="0.90" stroke-dasharray="9 6"/>
<line x1="221.00" y1="2059.60" x2="307.80" y2="2087.20" stroke="#cacaca" stroke-width="0.90" stroke-dasharray="9 6"/>
<line x1="260.50" y1="1821.70" x2="227.54" y2="1800.93" stroke="#7f7f00" stroke-width="2.20"/>
<path d="M221.30,1797.00 L230.89,1798.67 L227.54,1800.93 L226.94,1804.93 Z" fill="#7f7f00"/>
<line x1="273.50" y1="1922.00" x2="241.72" y2="1901.76" stroke="#7f7f00" stroke-width="2.20"/>
<path d="M235.50,1897.80 L245.08,1899.51 L241.72,1901.76 L241.10,1905.76 Z" fill="#7f7f00"/>
<line x1="273.50" y1="1922.00" x2="240.41" y2="1899.54" stroke="#14999c" stroke-width="2.20"/>
<path d="M234.30,1895.40 L243.82,1897.39 L240.41,1899.54 L239.67,1903.52 Z" fill="#14999c"/>
<line x1="273.50" y1="1922.00" x2="281.63" y2="1961.87" stroke="#ee1c1c" stroke-width="2.20"/>
<path d="M283.10,1969.10 L277.68,1961.02 L281.63,1961.87 L284.93,1959.54 Z" fill="#ee1c1c"/>
<line x1="336.10" y1="2026.10" x2="328.83" y2="1986.56" stroke="#7f7f00" stroke-width="2.20"/>
<path d="M327.50,1979.30 L332.77,1987.48 L328.83,1986.56 L325.49,1988.82 Z" fill="#7f7f00"/>
<line x1="336.10" y1="2026.10" x2="341.61" y2="1985.31" stroke="#14999c" stroke-width="2.20"/>
<path d="M342.60,1978.00 L345.06,1987.41 L341.61,1985.31 L337.73,1986.42 Z" fill="#14999c"/>
<line x1="336.10" y1="2026.10" x2="318.80" y2="2063.40" stroke="#ee1c1c" stroke-width="2.20"/>
<path d="M315.70,2070.10 L316.13,2060.38 L318.80,2063.40 L322.84,2063.49 Z" fill="#ee1c1c"/>
<line x1="417.60" y1="2082.00" x2="410.42" y2="2042.56" stroke="#7f7f00" stroke-width="2.20"/>
<path d="M409.10,2035.30 L414.35,2043.49 L410.42,2042.56 L407.07,2044.82 Z" fill="#7f7f00"/>
<line x1="221.00" y1="2059.60" x2="259.50" y2="2065.40" stroke="#14999c" stroke-width="2.20"/>
<path d="M266.80,2066.50 L257.35,2068.82 L259.50,2065.40 L258.45,2061.50 Z" fill="#14999c"/>
<line x1="221.00" y1="2059.60" x2="257.75" y2="2071.01" stroke="#ee1c1c" stroke-width="2.20"/>
<path d="M264.80,2073.20 L255.11,2074.06 L257.75,2071.01 L257.30,2067.00 Z" fill="#ee1c1c"/>
<line x1="307.80" y1="2087.20" x2="345.90" y2="2092.74" stroke="#7f7f00" stroke-width="2.20"/>
<path d="M353.20,2093.80 L343.76,2096.17 L345.90,2092.74 L344.83,2088.84 Z" fill="#7f7f00"/>
<circle cx="260.50" cy="1821.70" r="3.60" fill="#808020" stroke="#b9b9b9" stroke-width="1.00"/>
<circle cx="273.50" cy="1922.00" r="3.60" fill="#1d9a9e" stroke="#b9b9b9" stroke-width="1.00"/>
<circle cx="336.10" cy="2026.10" r="3.60" fill="#1d9a9e" stroke="#b9b9b9" stroke-width="1.00"/>
<circle cx="417.60" cy="2082.00" r="3.60" fill="#808020" stroke="#b9b9b9" stroke-width="1.00"/>
<circle cx="221.00" cy="2059.60" r="3.60" fill="#1d9a9e" stroke="#b9b9b9" stroke-width="1.00"/>
<circle cx="307.80" cy="2087.20" r="3.60" fill="#808020" stroke="#b9b9b9" stroke-width="1.00"/>
<text x="164.54" y="1782.50" font-size="20.30" fill="#111" font-weight="normal" textLength="120.97" lengthAdjust="spacingAndGlyphs" >Lift + 100 ms</text>
<text x="329.65" y="1857.00" font-size="20.30" fill="#a8a832" font-weight="normal" textLength="68.86" lengthAdjust="spacingAndGlyphs" >Control</text>
<text x="198.56" y="2013.60" font-size="20.30" fill="#46b6b8" font-weight="normal" textLength="52.03" lengthAdjust="spacingAndGlyphs" >Laser</text>
<text x="431.04" y="2052.00" font-size="20.30" fill="#111" font-weight="normal" textLength="28.15" lengthAdjust="spacingAndGlyphs" >Lift</text>
<text x="178.35" y="2116.10" font-size="20.30" fill="#111" font-weight="normal" textLength="115.37" lengthAdjust="spacingAndGlyphs" >Lift - 100 ms</text>
<line x1="112.63" y1="181.32" x2="126.84" y2="187.51" stroke="#c6c6c6" stroke-width="5"/>
<line x1="141.41" y1="193.87" x2="155.62" y2="200.07" stroke="#c6c6c6" stroke-width="5"/>
<line x1="170.19" y1="206.42" x2="184.40" y2="212.62" stroke="#c6c6c6" stroke-width="5"/>
<line x1="198.98" y1="218.98" x2="213.18" y2="225.17" stroke="#c6c6c6" stroke-width="5"/>
<line x1="227.76" y1="231.53" x2="241.96" y2="237.73" stroke="#c6c6c6" stroke-width="5"/>
<line x1="89.90" y1="171.40" x2="128.29" y2="83.84" stroke="#82822d" stroke-width="5.50"/>
<polyline points="109.61,101.27 129.40,81.30 128.13,109.39" fill="none" stroke="#82822d" stroke-width="3.70" stroke-linejoin="miter" stroke-miterlimit="20"/>
<line x1="266.20" y1="248.30" x2="304.95" y2="160.83" stroke="#82822d" stroke-width="5.50"/>
<polyline points="286.21,178.18 306.08,158.29 304.69,186.37" fill="none" stroke="#82822d" stroke-width="3.70" stroke-linejoin="miter" stroke-miterlimit="20"/>
<line x1="266.20" y1="248.30" x2="329.66" y2="176.06" stroke="#2da3a5" stroke-width="5.50"/>
<polyline points="306.58,187.01 331.49,173.97 321.77,200.36" fill="none" stroke="#2da3a5" stroke-width="3.70" stroke-linejoin="miter" stroke-miterlimit="20"/>
<line x1="266.20" y1="248.30" x2="194.80" y2="312.39" stroke="#dd3326" stroke-width="5.50"/>
<polyline points="219.01,304.24 192.73,314.24 205.50,289.19" fill="none" stroke="#dd3326" stroke-width="3.70" stroke-linejoin="miter" stroke-miterlimit="20"/>
<circle cx="89.90" cy="171.40" r="12.2" fill="#82822d" stroke="#c8c8c8" stroke-width="4"/>
<circle cx="266.20" cy="248.30" r="12.2" fill="#2da3a5" stroke="#c8c8c8" stroke-width="4"/>
<circle cx="140.90" cy="360.50" r="12.2" fill="#82822d" stroke="#c8c8c8" stroke-width="4"/>
<text x="139.90" y="33.80" font-size="21.00" fill="#7e8028" color="#7e8028" text-anchor="middle" ><tspan font-weight="bold">r</tspan><tspan font-size="11.6" dy="7.46">c</tspan><tspan dy="-7.46">​</tspan><tspan>’(t)</tspan></text>
<text x="140.05" y="65.70" font-size="21.00" fill="#7e8028" color="#7e8028" text-anchor="middle" ><tspan stroke="currentColor" stroke-width="0.55">‖</tspan><tspan font-weight="bold">r</tspan><tspan font-size="11.6" dy="7.46">c</tspan><tspan dy="-7.46">​</tspan><tspan>’(t)</tspan><tspan stroke="currentColor" stroke-width="0.55">‖</tspan></text>
<line x1="111.20" y1="44.70" x2="168.00" y2="44.70" stroke="#7e8028" stroke-width="2"/>
<text x="301.40" y="101.80" font-size="21.00" fill="#7e8028" color="#7e8028" text-anchor="middle" ><tspan font-weight="bold">r</tspan><tspan font-size="11.6" dy="7.46">c</tspan><tspan dy="-7.46">​</tspan><tspan>’(t)</tspan></text>
<text x="301.55" y="133.70" font-size="21.00" fill="#7e8028" color="#7e8028" text-anchor="middle" ><tspan stroke="currentColor" stroke-width="0.55">‖</tspan><tspan font-weight="bold">r</tspan><tspan font-size="11.6" dy="7.46">c</tspan><tspan dy="-7.46">​</tspan><tspan>’(t)</tspan><tspan stroke="currentColor" stroke-width="0.55">‖</tspan></text>
<line x1="272.30" y1="112.40" x2="329.60" y2="112.40" stroke="#7e8028" stroke-width="2"/>
<text x="389.00" y="162.90" font-size="21.00" fill="#2fa2a6" color="#2fa2a6" text-anchor="middle" ><tspan font-weight="bold">r</tspan><tspan font-size="11.6" dy="7.46">l</tspan><tspan dy="-7.46">​</tspan><tspan>’(t)</tspan></text>
<text x="389.30" y="194.80" font-size="21.00" fill="#2fa2a6" color="#2fa2a6" text-anchor="middle" ><tspan stroke="currentColor" stroke-width="0.55">‖</tspan><tspan font-weight="bold">r</tspan><tspan font-size="11.6" dy="7.46">l</tspan><tspan dy="-7.46">​</tspan><tspan>’(t)</tspan><tspan stroke="currentColor" stroke-width="0.55">‖</tspan></text>
<line x1="360.00" y1="173.50" x2="417.00" y2="173.50" stroke="#2fa2a6" stroke-width="2"/>
<text x="243.95" y="341.40" font-size="21.00" fill="#d8352b" color="#d8352b" text-anchor="middle" ><tspan font-weight="bold">r</tspan><tspan font-size="11.6" dy="7.46">c</tspan><tspan dy="-7.46">​</tspan><tspan>(0) - </tspan><tspan font-weight="bold">r</tspan><tspan font-size="11.6" dy="7.46">l</tspan><tspan dy="-7.46">​</tspan><tspan>(t)</tspan></text>
<text x="244.50" y="373.30" font-size="21.00" fill="#d8352b" color="#d8352b" text-anchor="middle" ><tspan stroke="currentColor" stroke-width="0.55">‖</tspan><tspan font-weight="bold">r</tspan><tspan font-size="11.6" dy="7.46">c</tspan><tspan dy="-7.46">​</tspan><tspan>(0) - </tspan><tspan font-weight="bold">r</tspan><tspan font-size="11.6" dy="7.46">l</tspan><tspan dy="-7.46">​</tspan><tspan>(t)</tspan><tspan stroke="currentColor" stroke-width="0.55">‖</tspan></text>
<line x1="215.20" y1="352.00" x2="272.40" y2="352.00" stroke="#d8352b" stroke-width="2"/>
<text x="91.40" y="204.50" font-size="21.00" fill="#7e8028" color="#7e8028" text-anchor="middle" ><tspan font-weight="bold">r</tspan><tspan font-size="11.6" dy="7.46">c</tspan><tspan dy="-7.46">​</tspan><tspan>(t)</tspan></text>
<text x="266.40" y="278.50" font-size="21.00" fill="#2fa2a6" color="#2fa2a6" text-anchor="middle" ><tspan font-weight="bold">r</tspan><tspan font-size="11.6" dy="7.46">l</tspan><tspan dy="-7.46">​</tspan><tspan>(t)</tspan></text>
<text x="143.35" y="396.20" font-size="21.00" fill="#7e8028" color="#7e8028" text-anchor="middle" ><tspan font-weight="bold">r</tspan><tspan font-size="11.6" dy="7.46">c</tspan><tspan dy="-7.46">​</tspan><tspan>(0)</tspan></text>
<text x="584.45" y="151.20" font-size="20.00" fill="#2fa2a6" color="#2fa2a6" text-anchor="middle" ><tspan font-weight="bold">r</tspan><tspan font-size="11.0" dy="7.10">l</tspan><tspan dy="-7.10">​</tspan><tspan>’(t)</tspan></text>
<text x="583.85" y="183.30" font-size="20.00" fill="#2fa2a6" color="#2fa2a6" text-anchor="middle" ><tspan stroke="currentColor" stroke-width="0.55">‖</tspan><tspan font-weight="bold">r</tspan><tspan font-size="11.0" dy="7.10">l</tspan><tspan dy="-7.10">​</tspan><tspan>’(t)</tspan><tspan stroke="currentColor" stroke-width="0.55">‖</tspan></text>
<line x1="554.90" y1="162.00" x2="612.60" y2="162.00" stroke="#2fa2a6" stroke-width="2"/>
<text x="697.70" y="151.20" font-size="20.00" fill="#7e8028" color="#7e8028" text-anchor="middle" ><tspan font-weight="bold">r</tspan><tspan font-size="11.0" dy="7.10">c</tspan><tspan dy="-7.10">​</tspan><tspan>’(t)</tspan></text>
<text x="698.10" y="183.30" font-size="20.00" fill="#7e8028" color="#7e8028" text-anchor="middle" ><tspan stroke="currentColor" stroke-width="0.55">‖</tspan><tspan font-weight="bold">r</tspan><tspan font-size="11.0" dy="7.10">c</tspan><tspan dy="-7.10">​</tspan><tspan>’(t)</tspan><tspan stroke="currentColor" stroke-width="0.55">‖</tspan></text>
<line x1="669.10" y1="162.00" x2="725.90" y2="162.00" stroke="#7e8028" stroke-width="2"/>
<circle cx="636.9" cy="162.0" r="3.1" fill="#111"/>
<rect x="777" y="159.1" width="11" height="1.8" fill="#111"/><rect x="777" y="163.8" width="11" height="1.8" fill="#111"/>
<text x="584.45" y="289.90" font-size="20.00" fill="#2fa2a6" color="#2fa2a6" text-anchor="middle" ><tspan font-weight="bold">r</tspan><tspan font-size="11.0" dy="7.10">l</tspan><tspan dy="-7.10">​</tspan><tspan>’(t)</tspan></text>
<text x="583.85" y="321.80" font-size="20.00" fill="#2fa2a6" color="#2fa2a6" text-anchor="middle" ><tspan stroke="currentColor" stroke-width="0.55">‖</tspan><tspan font-weight="bold">r</tspan><tspan font-size="11.0" dy="7.10">l</tspan><tspan dy="-7.10">​</tspan><tspan>’(t)</tspan><tspan stroke="currentColor" stroke-width="0.55">‖</tspan></text>
<line x1="554.90" y1="300.50" x2="612.60" y2="300.50" stroke="#2fa2a6" stroke-width="2"/>
<text x="698.10" y="289.90" font-size="20.00" fill="#d8352b" color="#d8352b" text-anchor="middle" ><tspan font-weight="bold">r</tspan><tspan font-size="11.0" dy="7.10">c</tspan><tspan dy="-7.10">​</tspan><tspan>(0) - </tspan><tspan font-weight="bold">r</tspan><tspan font-size="11.0" dy="7.10">l</tspan><tspan dy="-7.10">​</tspan><tspan>(t)</tspan></text>
<text x="698.10" y="321.80" font-size="20.00" fill="#d8352b" color="#d8352b" text-anchor="middle" ><tspan stroke="currentColor" stroke-width="0.55">‖</tspan><tspan font-weight="bold">r</tspan><tspan font-size="11.0" dy="7.10">c</tspan><tspan dy="-7.10">​</tspan><tspan>(0) - </tspan><tspan font-weight="bold">r</tspan><tspan font-size="11.0" dy="7.10">l</tspan><tspan dy="-7.10">​</tspan><tspan>(t)</tspan><tspan stroke="currentColor" stroke-width="0.55">‖</tspan></text>
<line x1="669.10" y1="300.50" x2="725.90" y2="300.50" stroke="#d8352b" stroke-width="2"/>
<circle cx="633.3" cy="300.7" r="3.1" fill="#111"/>
<rect x="777" y="297.8" width="11" height="1.8" fill="#111"/><rect x="777" y="302.5" width="11" height="1.8" fill="#111"/>
<text x="822.40" y="152.40" font-size="20.80" fill="#7a8226" font-weight="normal" textLength="277.22" lengthAdjust="spacingAndGlyphs" >Similarity between direction of</text>
<text x="829.89" y="177.00" font-size="20.80" fill="#7a8226" font-weight="normal" textLength="262.61" lengthAdjust="spacingAndGlyphs" >laser and control trajectories</text>
<text x="923.69" y="200.90" font-size="20.80" fill="#7a8226" font-weight="normal" textLength="74.90" lengthAdjust="spacingAndGlyphs" >at time t</text>
<text x="822.40" y="290.60" font-size="20.80" fill="#d83227" font-weight="normal" textLength="277.22" lengthAdjust="spacingAndGlyphs" >Similarity between direction of</text>
<text x="831.99" y="315.10" font-size="20.80" fill="#d83227" font-weight="normal" textLength="258.88" lengthAdjust="spacingAndGlyphs" >laser trajectory at time t and</text>
<text x="877.90" y="339.90" font-size="20.80" fill="#d83227" font-weight="normal" textLength="167.40" lengthAdjust="spacingAndGlyphs" >control initial state</text>
</svg></body></html>
